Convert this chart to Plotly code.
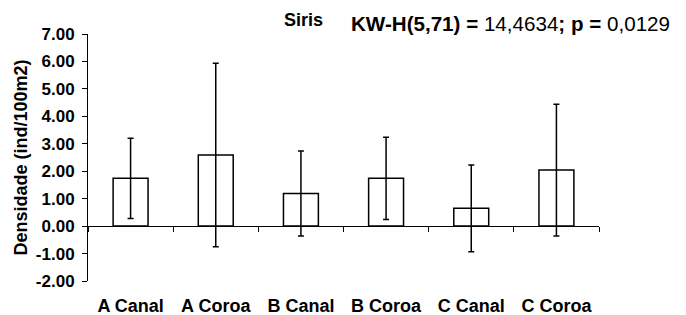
import plotly.graph_objects as go

categories = ["A Canal", "A Coroa", "B Canal", "B Coroa", "C Canal", "C Coroa"]
means = [1.74, 2.59, 1.19, 1.74, 0.65, 2.04]
sds = [1.46, 3.34, 1.55, 1.50, 1.58, 2.40]
y_ticks = [-2, -1, 0, 1, 2, 3, 4, 5, 6, 7]
y_tick_labels = [f"{v:.2f}" for v in y_ticks]

FONT = "Liberation Sans, Arial, sans-serif"

fig = go.Figure()
fig.add_trace(go.Bar(
    x=categories, y=means,
    width=0.41,
    marker=dict(color="white", line=dict(color="black", width=1.5)),
    error_y=dict(type="data", array=sds, visible=True, color="black", thickness=1.5, width=3),
    xaxis="x2", yaxis="y",
    showlegend=False, hoverinfo="skip",
))
# invisible trace so the label axis has the categories
fig.add_trace(go.Scatter(x=categories, y=[None]*len(categories), xaxis="x", yaxis="y",
                         mode="markers", showlegend=False, hoverinfo="skip"))

# page body has an 8px margin: shrink figure and margins to keep plot area in place
fig.update_layout(
    width=678, height=307,
    margin=dict(l=80, r=87, t=26, b=34, autoexpand=False),
    paper_bgcolor="white", plot_bgcolor="white",
    font=dict(family=FONT, color="black"),
    xaxis=dict(
        type="category", categoryorder="array", categoryarray=categories,
        range=[-0.5, 5.5], showline=False, ticks="", showgrid=False, zeroline=False,
        ticklabelstandoff=12, automargin=False,
        tickfont=dict(family=FONT, size=18, color="black", weight="bold"),
    ),
    xaxis2=dict(
        type="category", categoryorder="array", categoryarray=categories,
        overlaying="x", anchor="free", position=2/9, range=[-0.5, 5.5],
        showline=True, linecolor="black", linewidth=1, automargin=False,
        ticks="outside", tickson="boundaries", ticklen=5, tickcolor="black", tickwidth=1,
        showticklabels=False, showgrid=False, zeroline=False,
    ),
    yaxis=dict(
        range=[-2, 7], tickvals=y_ticks, ticktext=y_tick_labels,
        showline=True, linecolor="black", linewidth=1, automargin=False,
        ticks="outside", ticklen=5, tickcolor="black",
        showgrid=False, zeroline=False, ticklabelstandoff=4,
        tickfont=dict(family=FONT, size=17, color="black", weight="bold"),
    ),
    annotations=[
        dict(text="<b>Siris</b>", xref="paper", yref="paper", x=0.4217, y=1.0587,
             xanchor="center", yanchor="middle", showarrow=False,
             font=dict(family=FONT, size=18, color="black")),
        dict(text="<b>KW-H(5,71) =</b> 14,4634<b>; p =</b> 0,0129", xref="paper", yref="paper",
             x=0.5108, y=1.0405, xanchor="left", yanchor="middle", showarrow=False,
             font=dict(family=FONT, size=20.6, color="black")),
        dict(text="<b>Densidade (ind/100m2)</b>", xref="paper", yref="paper",
             x=-0.133, y=0.5, xanchor="center", yanchor="middle", textangle=-90,
             showarrow=False, font=dict(family=FONT, size=18, color="black")),
    ],
)

fig.write_html("out.html")
